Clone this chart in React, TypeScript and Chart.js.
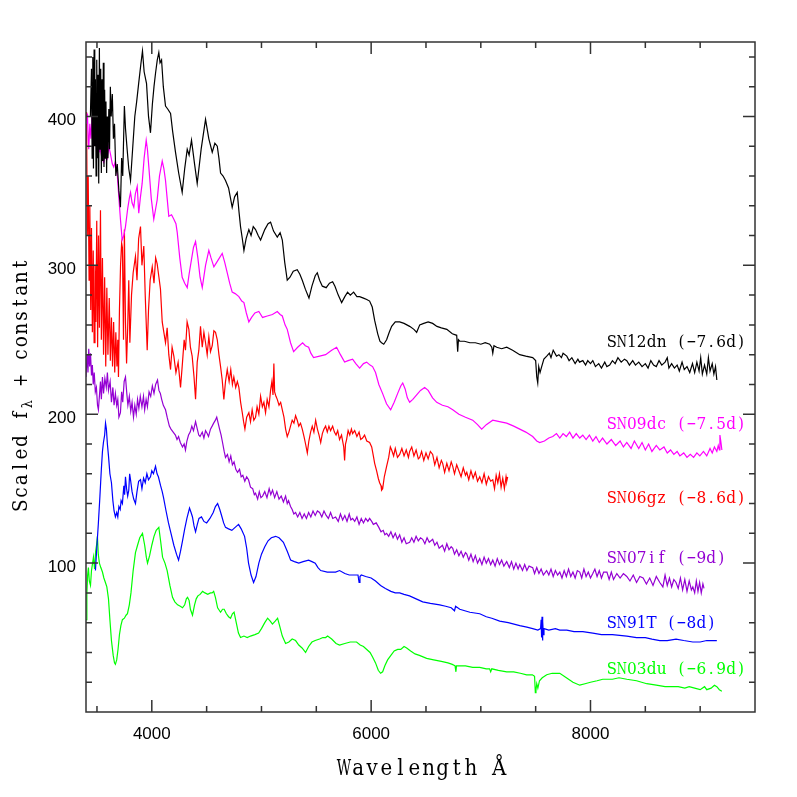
import React, { useEffect, useRef } from "react";
import { Chart, registerables } from "chart.js";

Chart.register(...registerables);

// ---------- axis values ----------
const xMajorTicks = [4000, 6000, 8000];
const xMinorTicks = [3500, 4500, 5000, 5500, 6500, 7000, 7500, 8500, 9000];
const yMajorTicks = [100, 200, 300, 400];
const yMinorTicks = [20, 40, 60, 80, 120, 140, 160, 180, 220, 240, 260, 280, 320, 340, 360, 380, 420, 440];
const xTitle = "Wavelength Å";
const yTitleMain = "Scaled f";
const yTitleSub = "λ";
const yTitleRest = " + constant";

// ---------- spectra: [wavelength Å, scaled flux] ----------
const sn12dn: [number, number][] = [
  [3440,400],[3450,432],[3456,372],[3462,440],[3468,365],[3474,445],[3480,380],[3486,425],[3492,360],[3498,438],[3504,372],[3510,428],[3516,355],[3522,446],[3528,378],[3534,432],[3540,362],[3546,425],[3552,370],[3558,436],[3564,366],[3570,418],[3576,372],[3582,410],[3588,362],[3594,400],[3600,372],[3608,405],[3615,378],[3622,420],[3630,400],[3640,415],[3650,385],[3660,395],[3672,360],[3685,368],[3700,350],[3714,339],[3725,372],[3735,360],[3750,407],[3760,392],[3775,378],[3790,365],[3806,357],[3825,378],[3845,400],[3862,410],[3880,422],[3900,435],[3915,444],[3930,430],[3952,422],[3970,400],[3988,389],[4005,408],[4020,420],[4034,429],[4050,438],[4064,443],[4075,436],[4089,438],[4105,420],[4125,407],[4145,405],[4171,402],[4190,390],[4216,376],[4245,362],[4277,349],[4300,365],[4323,378],[4340,374],[4362,384],[4390,368],[4414,355],[4450,378],[4490,398],[4520,385],[4551,376],[4575,382],[4597,380],[4612,372],[4627,362],[4650,360],[4672,357],[4700,352],[4733,339],[4755,346],[4779,349],[4795,336],[4809,326],[4825,318],[4840,310],[4860,318],[4885,324],[4905,320],[4925,326],[4946,324],[4970,320],[4992,317],[5030,324],[5060,328],[5083,329],[5110,323],[5144,319],[5170,322],[5190,317],[5212,302],[5235,290],[5260,292],[5290,296],[5326,297],[5350,294],[5372,290],[5400,284],[5433,278],[5460,286],[5490,293],[5509,295],[5530,290],[5555,286],[5590,285],[5620,288],[5649,289],[5670,286],[5700,280],[5731,275],[5760,279],[5785,282],[5810,280],[5840,282],[5870,279],[5895,279],[5930,278],[5960,277],[5986,276],[6010,272],[6032,263],[6060,254],[6080,249],[6095,248],[6115,247],[6141,250],[6165,255],[6187,259],[6220,262],[6260,262],[6300,261],[6351,259],[6390,257],[6415,255],[6443,260],[6480,261],[6520,262],[6561,261],[6600,259],[6640,258],[6690,257],[6740,254],[6780,253],[6789,242],[6796,250],[6808,249],[6850,249],[6900,248],[6950,248],[7000,247],[7040,248],[7081,247],[7100,245],[7109,241],[7120,246],[7145,245],[7190,244],[7236,245],[7290,243],[7355,240],[7410,239],[7473,238],[7500,236],[7510,225],[7519,221],[7528,232],[7540,228],[7555,232],[7575,237],[7601,239],[7625,241],[7640,238],[7660,243],[7690,239],[7712,240],[7735,238],[7750,241],[7784,239],[7805,236],[7830,238],[7860,234],[7885,237],[7900,235],[7930,236],[7955,233],[7975,236],[8000,234],[8021,236],[8045,232],[8075,234],[8100,231],[8130,235],[8149,232],[8175,233],[8200,236],[8225,234],[8250,238],[8280,235],[8310,237],[8331,236],[8355,233],[8385,236],[8410,233],[8440,235],[8470,232],[8500,234],[8525,231],[8550,236],[8575,233],[8600,232],[8625,236],[8650,233],[8680,235],[8700,238],[8715,231],[8740,234],[8765,231],[8790,233],[8810,229],[8835,235],[8855,230],[8880,232],[8905,228],[8930,234],[8950,228],[8970,235],[8990,229],[9005,238],[9020,227],[9040,233],[9060,227],[9075,238],[9090,229],[9110,234],[9125,227],[9140,232],[9152,223]
];

const sn09dc: [number, number][] = [
  [3404,395],[3413,402],[3420,385],[3425,378],[3435,395],[3445,385],[3455,400],[3465,392],[3475,410],[3486,416],[3493,405],[3500,396],[3508,385],[3517,376],[3530,378],[3545,372],[3562,369],[3580,375],[3595,372],[3608,380],[3625,374],[3640,368],[3653,366],[3668,370],[3684,362],[3700,345],[3714,331],[3730,317],[3745,320],[3760,326],[3780,338],[3795,345],[3806,349],[3820,342],[3836,339],[3850,348],[3867,353],[3881,335],[3895,345],[3912,355],[3930,372],[3949,384],[3960,378],[3973,366],[3995,345],[4018,331],[4035,338],[4049,344],[4070,360],[4095,370],[4110,365],[4125,357],[4140,345],[4155,333],[4180,334],[4201,331],[4220,328],[4232,322],[4255,305],[4277,292],[4300,288],[4323,285],[4340,294],[4362,304],[4380,312],[4399,316],[4420,305],[4440,292],[4460,285],[4490,300],[4520,310],[4540,305],[4566,299],[4600,303],[4642,308],[4665,302],[4688,295],[4710,288],[4733,282],[4760,281],[4794,279],[4820,276],[4840,275],[4862,268],[4885,262],[4910,265],[4940,268],[4976,269],[5010,265],[5053,266],[5100,267],[5144,269],[5170,267],[5190,266],[5215,260],[5235,257],[5265,248],[5293,242],[5330,245],[5375,248],[5400,246],[5430,245],[5450,241],[5475,238],[5530,239],[5585,240],[5640,243],[5685,245],[5720,240],[5758,235],[5790,236],[5831,237],[5860,234],[5895,231],[5930,234],[5959,235],[5990,233],[6013,232],[6040,228],[6070,220],[6104,214],[6140,207],[6178,203],[6210,208],[6242,214],[6270,219],[6288,221],[6310,217],[6330,211],[6351,208],[6380,210],[6415,213],[6450,216],[6488,218],[6520,216],[6560,211],[6598,208],[6650,206],[6700,205],[6744,203],[6800,200],[6860,198],[6926,196],[6970,193],[7008,190],[7050,193],[7109,196],[7170,195],[7236,194],[7300,192],[7355,190],[7410,188],[7473,185],[7510,182],[7537,181],[7580,182],[7620,184],[7656,185],[7690,187],[7720,184],[7750,187],[7780,185],[7810,188],[7840,184],[7870,187],[7902,184],[7930,186],[7960,183],[7990,186],[8021,182],[8050,185],[8080,181],[8110,184],[8150,180],[8190,183],[8230,179],[8270,182],[8300,178],[8331,181],[8370,177],[8400,182],[8440,177],[8470,181],[8500,176],[8530,180],[8560,175],[8600,179],[8632,176],[8670,178],[8700,174],[8730,176],[8760,173],[8790,175],[8815,172],[8850,174],[8880,171],[8910,173],[8940,171],[8970,174],[8997,172],[9030,175],[9060,172],[9090,177],[9110,174],[9130,178],[9152,175],[9165,179],[9175,176],[9180,186],[9188,182],[9198,176]
];

const sn06gz: [number, number][] = [
  [3400,380],[3405,403],[3412,320],[3420,360],[3428,290],[3435,340],[3443,270],[3450,325],[3458,255],[3466,310],[3474,248],[3482,300],[3490,262],[3498,330],[3506,245],[3514,320],[3522,258],[3532,337],[3540,250],[3550,305],[3560,240],[3570,292],[3580,232],[3590,285],[3600,240],[3612,278],[3622,236],[3632,265],[3642,232],[3652,262],[3662,228],[3672,255],[3682,232],[3690,250],[3696,225],[3705,270],[3715,300],[3725,315],[3732,312],[3742,250],[3750,324],[3760,262],[3770,234],[3780,258],[3790,290],[3800,248],[3815,280],[3830,295],[3851,306],[3865,290],[3880,318],[3897,326],[3910,300],[3927,313],[3940,280],[3958,243],[3970,270],[3985,290],[4004,299],[4020,288],[4035,305],[4049,301],[4065,292],[4079,284],[4095,262],[4110,255],[4125,248],[4140,258],[4155,240],[4171,230],[4185,245],[4201,239],[4220,228],[4240,235],[4262,218],[4280,235],[4295,250],[4307,243],[4322,262],[4338,257],[4352,245],[4368,239],[4385,225],[4399,210],[4414,235],[4429,243],[4444,259],[4460,245],[4475,255],[4490,248],[4505,240],[4520,252],[4535,242],[4551,246],[4566,256],[4581,255],[4597,250],[4612,240],[4627,232],[4642,223],[4657,210],[4672,222],[4688,230],[4705,222],[4720,230],[4735,220],[4748,225],[4765,218],[4780,222],[4794,218],[4810,208],[4825,201],[4837,195],[4849,190],[4865,198],[4885,201],[4900,195],[4915,203],[4930,196],[4946,198],[4960,205],[4976,200],[4992,212],[5008,205],[5022,208],[5037,201],[5052,210],[5068,205],[5083,216],[5095,222],[5105,213],[5113,234],[5120,215],[5132,212],[5144,210],[5160,206],[5175,208],[5190,203],[5205,198],[5220,190],[5235,185],[5250,188],[5265,192],[5280,196],[5296,194],[5311,199],[5326,196],[5340,192],[5356,194],[5372,190],[5388,185],[5402,180],[5418,174],[5432,182],[5448,188],[5463,192],[5478,188],[5494,196],[5510,190],[5525,186],[5540,181],[5555,187],[5570,190],[5585,192],[5600,188],[5615,192],[5630,189],[5649,192],[5665,188],[5680,186],[5695,189],[5712,183],[5730,186],[5750,178],[5758,169],[5766,180],[5776,183],[5790,189],[5805,186],[5820,190],[5831,187],[5850,189],[5870,185],[5890,188],[5905,183],[5922,184],[5940,186],[5960,182],[5986,181],[6005,178],[6020,172],[6032,167],[6050,162],[6065,157],[6077,154],[6090,152],[6095,149],[6105,150],[6120,158],[6141,165],[6160,171],[6175,178],[6187,176],[6205,172],[6220,177],[6240,171],[6260,173],[6280,177],[6300,172],[6320,176],[6340,171],[6351,175],[6370,178],[6390,172],[6410,176],[6430,170],[6443,171],[6460,175],[6480,169],[6500,174],[6520,170],[6540,175],[6561,173],[6580,166],[6600,171],[6620,164],[6640,169],[6652,167],[6670,161],[6690,167],[6710,162],[6730,168],[6744,165],[6760,160],[6780,166],[6800,162],[6820,158],[6840,164],[6860,159],[6872,161],[6890,156],[6910,162],[6930,157],[6950,161],[6970,155],[6990,158],[7010,154],[7030,160],[7050,153],[7070,158],[7090,155],[7109,156],[7125,150],[7140,159],[7155,154],[7170,160],[7185,151],[7200,157],[7215,150],[7230,158],[7236,155],[7245,158]
];

const sn07if: [number, number][] = [
  [3400,225],[3410,240],[3418,228],[3425,244],[3433,232],[3441,241],[3450,226],[3458,233],[3466,220],[3475,228],[3485,215],[3495,218],[3505,206],[3513,203],[3522,212],[3532,222],[3540,210],[3550,225],[3560,214],[3572,224],[3585,218],[3595,228],[3605,216],[3620,222],[3632,208],[3645,218],[3656,206],[3668,214],[3680,206],[3690,210],[3700,198],[3714,201],[3725,215],[3735,208],[3748,222],[3760,225],[3772,214],[3782,206],[3795,212],[3808,202],[3820,208],[3833,198],[3845,206],[3858,200],[3870,210],[3882,204],[3895,212],[3910,205],[3924,212],[3935,203],[3948,210],[3960,205],[3975,215],[3990,212],[4005,219],[4020,214],[4035,220],[4052,223],[4065,216],[4078,214],[4090,210],[4105,206],[4125,203],[4140,198],[4160,192],[4175,190],[4195,188],[4215,186],[4230,183],[4244,185],[4260,181],[4280,178],[4295,180],[4307,176],[4320,182],[4335,186],[4350,188],[4365,192],[4380,189],[4399,195],[4415,190],[4428,186],[4440,185],[4460,188],[4475,184],[4490,189],[4505,187],[4517,185],[4535,190],[4550,192],[4564,194],[4580,196],[4592,198],[4605,194],[4618,190],[4632,186],[4645,181],[4660,175],[4672,171],[4690,173],[4705,168],[4720,172],[4735,166],[4750,168],[4766,163],[4782,161],[4800,163],[4815,158],[4830,159],[4848,155],[4865,158],[4882,156],[4900,151],[4920,150],[4935,146],[4946,147],[4965,143],[4980,148],[4995,144],[5010,145],[5030,148],[5050,144],[5070,150],[5085,146],[5101,149],[5120,144],[5140,148],[5160,143],[5180,145],[5200,141],[5220,145],[5235,140],[5247,142],[5265,138],[5280,136],[5295,133],[5311,134],[5330,131],[5350,134],[5370,130],[5390,133],[5410,130],[5430,134],[5450,131],[5470,135],[5490,132],[5510,135],[5530,134],[5550,131],[5570,135],[5590,132],[5610,130],[5630,134],[5650,130],[5676,131],[5700,128],[5720,133],[5740,129],[5760,132],[5780,128],[5800,133],[5815,129],[5831,130],[5850,128],[5870,131],[5890,126],[5910,130],[5930,127],[5950,130],[5970,128],[5986,130],[6005,128],[6020,126],[6046,127],[6070,124],[6090,121],[6110,122],[6125,119],[6141,120],[6160,118],[6180,121],[6200,117],[6220,120],[6240,116],[6260,119],[6280,114],[6300,117],[6320,113],[6351,114],[6370,117],[6390,114],[6410,118],[6430,115],[6450,117],[6470,116],[6490,113],[6510,117],[6530,114],[6561,116],[6580,112],[6600,114],[6620,110],[6650,112],[6670,108],[6690,113],[6710,109],[6730,111],[6744,110],[6760,106],[6780,109],[6800,105],[6820,108],[6840,104],[6860,107],[6872,106],[6890,102],[6910,106],[6930,101],[6950,105],[6970,100],[6990,103],[7010,99],[7030,104],[7050,100],[7070,103],[7090,99],[7109,102],[7130,98],[7150,103],[7170,99],[7190,102],[7210,98],[7236,101],[7260,97],[7280,101],[7300,96],[7320,100],[7340,96],[7355,99],[7380,95],[7400,99],[7420,95],[7440,98],[7473,97],[7490,93],[7510,97],[7530,93],[7550,96],[7570,92],[7600,95],[7620,92],[7640,96],[7660,91],[7680,95],[7700,92],[7720,94],[7740,90],[7760,95],[7780,91],[7800,96],[7820,91],[7840,94],[7860,90],[7880,95],[7902,94],[7920,90],[7940,96],[7960,91],[7980,94],[8000,90],[8021,93],[8040,96],[8060,91],[8080,95],[8100,90],[8120,94],[8150,94],[8170,89],[8190,94],[8210,89],[8240,93],[8270,90],[8300,93],[8331,91],[8360,88],[8390,92],[8420,87],[8450,91],[8480,90],[8510,86],[8540,90],[8570,85],[8600,91],[8632,87],[8660,84],[8680,92],[8700,85],[8720,90],[8740,84],[8760,89],[8780,87],[8800,83],[8820,90],[8840,82],[8860,89],[8880,81],[8900,88],[8920,82],[8933,84],[8950,80],[8965,88],[8980,81],[8995,87],[9010,80],[9025,86],[9035,83]
];

const sn91t: [number, number][] = [
  [3486,95],[3500,112],[3513,127],[3527,145],[3540,163],[3550,175],[3559,181],[3570,186],[3578,194],[3586,190],[3595,180],[3605,172],[3618,160],[3632,154],[3645,142],[3656,135],[3668,131],[3680,134],[3690,131],[3700,138],[3712,136],[3720,142],[3732,140],[3745,152],[3752,146],[3760,158],[3770,150],[3780,145],[3790,149],[3798,160],[3806,156],[3820,148],[3835,143],[3851,140],[3865,148],[3880,155],[3897,156],[3910,150],[3925,157],[3940,154],[3955,160],[3970,156],[3988,158],[4000,162],[4015,160],[4034,165],[4048,160],[4060,158],[4080,152],[4095,148],[4107,144],[4130,135],[4152,127],[4175,120],[4201,112],[4225,106],[4244,102],[4262,108],[4280,115],[4300,123],[4320,130],[4344,137],[4358,134],[4371,131],[4385,125],[4399,121],[4415,126],[4430,130],[4453,131],[4475,128],[4500,127],[4530,130],[4560,134],[4580,138],[4600,140],[4620,136],[4640,131],[4655,127],[4672,124],[4700,123],[4730,122],[4760,124],[4791,126],[4815,123],[4846,118],[4865,110],[4882,100],[4905,92],[4928,87],[4950,91],[4976,100],[5000,106],[5030,111],[5060,115],[5090,117],[5129,118],[5160,117],[5200,114],[5235,108],[5266,102],[5300,101],[5340,100],[5380,101],[5430,102],[5460,101],[5490,100],[5515,97],[5540,95],[5600,94],[5676,94],[5712,95],[5760,93],[5800,92],[5850,92],[5880,92],[5890,87],[5898,91],[5910,92],[5950,91],[6000,90],[6040,88],[6086,85],[6130,83],[6180,81],[6220,80],[6260,80],[6300,79],[6350,78],[6410,76],[6470,74],[6540,73],[6625,72],[6680,71],[6730,70],[6760,68],[6770,71],[6808,69],[6900,67],[6990,66],[7050,64],[7100,63],[7172,61],[7250,60],[7355,58],[7420,57],[7473,56],[7520,55],[7545,56],[7550,62],[7554,50],[7558,64],[7562,48],[7566,61],[7570,52],[7576,56],[7620,55],[7680,56],[7720,55],[7784,55],[7850,54],[7930,54],[8021,53],[8100,52],[8200,52],[8331,51],[8420,50],[8500,50],[8560,49],[8632,48],[8700,48],[8780,49],[8850,48],[8933,47],[9000,47],[9060,48],[9100,48],[9152,48]
];

const sn03du: [number, number][] = [
  [3400,62],[3408,80],[3415,92],[3422,97],[3430,88],[3441,85],[3450,95],[3460,100],[3468,104],[3478,96],[3488,108],[3496,112],[3504,118],[3512,106],[3522,100],[3535,97],[3550,94],[3563,90],[3577,87],[3590,84],[3605,76],[3618,62],[3632,48],[3648,38],[3660,33],[3668,32],[3680,35],[3692,42],[3705,52],[3718,58],[3732,62],[3750,63],[3765,65],[3778,66],[3795,72],[3810,80],[3830,95],[3851,107],[3870,112],[3890,117],[3915,120],[3935,112],[3950,104],[3961,100],[3980,105],[4000,112],[4020,118],[4040,122],[4064,124],[4080,115],[4098,104],[4120,100],[4140,95],[4165,85],[4189,77],[4210,74],[4235,72],[4260,71],[4280,70],[4300,72],[4315,76],[4326,77],[4340,75],[4352,69],[4371,65],[4390,72],[4405,76],[4420,78],[4440,79],[4463,81],[4485,80],[4510,79],[4535,80],[4550,80],[4564,81],[4580,77],[4600,70],[4627,67],[4645,69],[4660,69],[4680,66],[4700,64],[4718,63],[4735,66],[4750,67],[4770,60],[4790,53],[4809,50],[4840,51],[4870,50],[4900,51],[4940,52],[4974,53],[5000,56],[5030,60],[5056,63],[5080,61],[5100,59],[5125,61],[5147,63],[5165,58],[5190,51],[5220,46],[5250,47],[5280,49],[5311,48],[5340,45],[5370,43],[5402,40],[5430,44],[5460,47],[5490,48],[5530,49],[5560,50],[5585,50],[5603,51],[5640,49],[5680,46],[5712,45],[5760,46],[5810,47],[5867,47],[5900,45],[5930,44],[5960,42],[5990,40],[6013,37],[6040,33],[6065,28],[6086,26],[6105,27],[6125,31],[6150,35],[6180,38],[6210,41],[6242,42],[6270,42],[6300,44],[6324,43],[6360,41],[6400,39],[6440,38],[6506,36],[6570,35],[6640,34],[6700,33],[6740,32],[6765,31],[6773,27],[6778,31],[6800,31],[6860,31],[6926,30],[6990,30],[7050,29],[7080,29],[7090,27],[7100,29],[7160,28],[7236,27],[7300,27],[7360,26],[7418,25],[7470,25],[7490,24],[7497,13],[7503,15],[7510,19],[7520,16],[7535,21],[7560,23],[7601,25],[7650,26],[7720,26],[7780,23],[7840,20],[7902,18],[7950,19],[8000,20],[8060,21],[8112,22],[8200,22],[8260,23],[8331,22],[8420,21],[8513,19],[8600,18],[8680,17],[8723,17],[8800,17],[8860,16],[8900,17],[8950,16],[9000,15],[9040,17],[9060,15],[9100,16],[9130,18],[9152,17],[9175,15],[9198,14]
];

// ---------- series labels ----------
const seriesNames = ["SN12dn (−7.6d)", "SN09dc (−7.5d)", "SN06gz (−8.6d)", "SN07if (−9d)", "SN91T (−8d)", "SN03du (−6.9d)"];
const seriesColors = ["#000000", "#ff00ff", "#ff0000", "#9400d3", "#0000ff", "#00ff00"];
const labelWavelength = [8150, 8150, 8150, 8150, 8150, 8150];
const labelFlux = [249, 194, 144.5, 104, 60.5, 29.5];

const spectra = [sn12dn, sn09dc, sn06gz, sn07if, sn91t, sn03du];

const SERIF = '"DejaVu Serif"';

// Draws a string as fixed-pitch serif text (typewriter look), starting at x (left) on baseline y.
function drawPitched(ctx: CanvasRenderingContext2D, text: string, x: number, y: number, size: number, pitch: number, squeeze: number) {
  ctx.save();
  ctx.font = `${size}px ${SERIF}`;
  ctx.textAlign = "center";
  ctx.textBaseline = "alphabetic";
  const chars = Array.from(text);
  chars.forEach((ch, i) => {
    if (ch === " ") return;
    const w = ctx.measureText(ch).width;
    const s = Math.min(squeeze, (pitch * 1.02) / Math.max(w, 0.01));
    ctx.save();
    ctx.translate(x + pitch * (i + 0.5), y);
    ctx.scale(s, 1);
    ctx.fillText(ch, 0, 0);
    ctx.restore();
  });
  ctx.restore();
  return chars.length * pitch;
}

export default function App() {
  const canvasRef = useRef<HTMLCanvasElement | null>(null);

  useEffect(() => {
    const canvas = canvasRef.current;
    if (!canvas) return;

    const framePlugin = {
      id: "frameTicks",
      afterDatasetsDraw(chart: any) {
        const { ctx, chartArea, scales } = chart;
        const { left, right, top, bottom } = chartArea;
        const xs = scales.x;
        const ys = scales.y;
        ctx.save();
        ctx.strokeStyle = "#333333";
        ctx.lineWidth = 1.5;
        ctx.strokeRect(left, top, right - left, bottom - top);
        ctx.beginPath();
        const xTick = (v: number, len: number) => {
          const px = xs.getPixelForValue(v);
          ctx.moveTo(px, bottom);
          ctx.lineTo(px, bottom - len);
          ctx.moveTo(px, top);
          ctx.lineTo(px, top + len);
        };
        const yTick = (v: number, len: number) => {
          const py = ys.getPixelForValue(v);
          ctx.moveTo(left, py);
          ctx.lineTo(left + len, py);
          ctx.moveTo(right, py);
          ctx.lineTo(right - len, py);
        };
        xMajorTicks.forEach((v) => xTick(v, 12));
        xMinorTicks.forEach((v) => xTick(v, 6));
        yMajorTicks.forEach((v) => yTick(v, 12));
        yMinorTicks.forEach((v) => yTick(v, 6));
        ctx.stroke();
        ctx.restore();

        // series labels
        seriesNames.forEach((name, i) => {
          ctx.save();
          ctx.fillStyle = seriesColors[i];
          drawPitched(ctx, name, xs.getPixelForValue(labelWavelength[i]), ys.getPixelForValue(labelFlux[i]) + 6, 17, 9.93, 0.9);
          ctx.restore();
        });
      },
      afterDraw(chart: any) {
        const { ctx, chartArea } = chart;
        ctx.save();
        ctx.fillStyle = "#000";

        // x-axis title, centred under the plot
        const xPitch = 14.1;
        const xLen = Array.from(xTitle).length * xPitch;
        const xc = (chartArea.left + chartArea.right) / 2 + 1;
        drawPitched(ctx, xTitle, xc - xLen / 2, 775, 22, xPitch, 0.9);

        // y-axis title with subscript lambda
        const yPitch = 12.9;
        const subPitch = 9;
        const mainLen = Array.from(yTitleMain).length * yPitch;
        const restLen = Array.from(yTitleRest).length * yPitch;
        const total = mainLen + subPitch + restLen;
        const cy = 385;
        ctx.translate(27, cy);
        ctx.rotate(-Math.PI / 2);
        let x0 = -total / 2;
        drawPitched(ctx, yTitleMain, x0, 0, 20.5, yPitch, 0.9);
        x0 += mainLen;
        drawPitched(ctx, yTitleSub, x0, 5, 14, subPitch, 0.9);
        x0 += subPitch;
        drawPitched(ctx, yTitleRest, x0, 0, 20.5, yPitch, 0.9);
        ctx.restore();
      },
    };

    const chart = new Chart(canvas, {
      type: "line",
      data: {
        datasets: spectra.map((s, i) => ({
          label: seriesNames[i],
          data: s.map(([x, y]) => ({ x, y })),
          borderColor: seriesColors[i],
          backgroundColor: seriesColors[i],
          borderWidth: 1.2,
          pointRadius: 0,
          tension: 0,
          fill: false,
        })),
      },
      options: {
        animation: false,
        responsive: false,
        devicePixelRatio: 1,
        layout: { padding: { left: 0, right: 42, top: 42, bottom: 0 } },
        plugins: { legend: { display: false }, tooltip: { enabled: false } },
        scales: {
          x: {
            type: "linear",
            min: 3400,
            max: 9500,
            afterBuildTicks: (s: any) => {
              s.ticks = xMajorTicks.map((v) => ({ value: v }));
            },
            afterFit: (s: any) => {
              s.height = 85;
            },
            grid: { display: false, drawTicks: false },
            border: { display: false },
            ticks: {
              autoSkip: false,
              maxRotation: 0,
              padding: 12,
              color: "#000",
              font: { family: "Liberation Sans", size: 17 },
              callback: (v: any) => String(v),
            },
          },
          y: {
            type: "linear",
            min: 0,
            max: 450,
            afterBuildTicks: (s: any) => {
              s.ticks = yMajorTicks.map((v) => ({ value: v }));
            },
            afterFit: (s: any) => {
              s.width = 86;
            },
            grid: { display: false, drawTicks: false },
            border: { display: false },
            ticks: {
              autoSkip: false,
              padding: 10,
              labelOffset: 4,
              color: "#000",
              font: { family: "Liberation Sans", size: 17 },
              callback: (v: any) => String(v),
            },
          },
        },
      },
      plugins: [framePlugin],
    });

    return () => chart.destroy();
  }, []);

  return (
    <div style={{ position: "absolute", left: 0, top: 0, width: 797, height: 797, background: "#fff" }}>
      <canvas ref={canvasRef} width={797} height={797} style={{ display: "block" }} />
    </div>
  );
}
